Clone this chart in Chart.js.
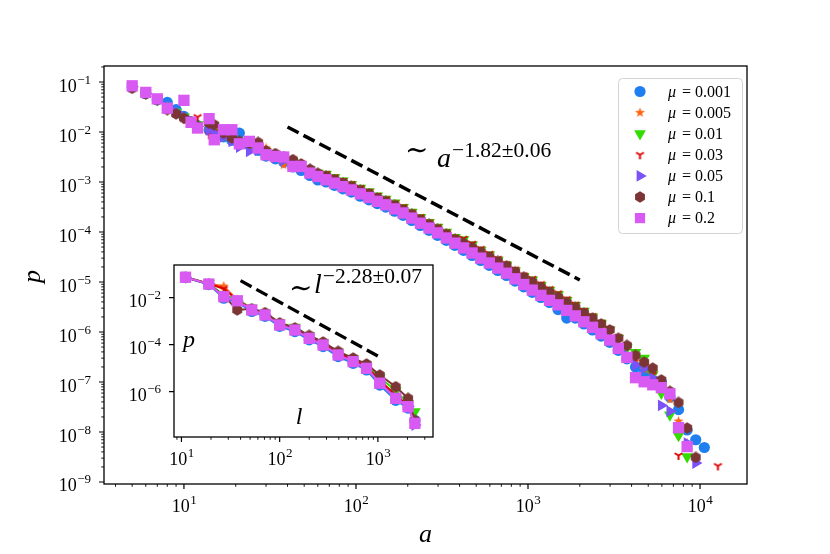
<!DOCTYPE html>
<html>
<head>
<meta charset="utf-8">
<script src="https://cdn.jsdelivr.net/npm/chart.js@4.4.0/dist/chart.umd.min.js"></script>
<style>
  body { margin: 0; background: #fff; }
  #wrap { position: relative; width: 830px; height: 554px; }
  #wrap canvas { position: absolute; left: 0; top: 0; }
</style>
</head>
<body>
<div id="wrap">
  <canvas id="mainChart" width="830" height="554"></canvas>
  <canvas id="insetChart" width="830" height="554"></canvas>
</div>
<script>
// ---- data ----
const muLabels = ['0.001', '0.005', '0.01', '0.03', '0.05', '0.1', '0.2'];

const aBins = [5, 6, 7, 8, 9, 10, 11, 12, 14, 15, 17, 19, 21, 24, 27, 30, 34, 38, 43, 48, 54, 60,
  67, 75, 84, 94, 106, 119, 133, 149, 168, 188, 211, 237, 266, 298, 335, 376, 422, 473, 531, 596, 668, 750, 841, 944,
  1059, 1188, 1334, 1496, 1679, 1884, 2113, 2371, 2661, 2985, 3350, 3758, 4217, 4732, 5309, 5957, 6683, 7499, 8414, 9441, 10593, 12700];

const pMu0001 = [8.0e-2, 5.9e-2, 4.4e-2, 3.9e-2, 2.8e-2, 2.05e-2, 1.6e-2, 1.35e-2, 1.1e-2, 9.0e-3, 8.0e-3, 6.8e-3, 9.5e-3, 5.5e-3, 4.3e-3, 3.3e-3, 2.9e-3, 2.5e-3, 2.0e-3, 1.7e-3, 1.35e-3, 1.1e-3,
  1.0e-3, 8.6e-4, 7.3e-4, 6.3e-4, 5.2e-4, 4.4e-4, 3.7e-4, 3.15e-4, 2.6e-4, 2.15e-4, 1.7e-4, 1.35e-4, 1.08e-4, 8.6e-5, 6.8e-5, 5.4e-5, 4.3e-5, 3.4e-5, 2.7e-5, 2.15e-5, 1.7e-5, 1.35e-5, 1.04e-5, 8.0e-6,
  6.2e-6, 4.9e-6, 3.9e-6, 2.8e-6, 1.9e-6, 1.9e-6, 1.45e-6, 1.1e-6, 8.3e-7, 6.2e-7, 4.3e-7, 2.9e-7, 2.0e-7, 1.5e-7, 1.1e-7, 1.0e-7, 5.0e-8, 2.8e-8, 1.1e-8, 7.0e-9, 4.9e-9, null];
const pMu0005 = [8.1e-2, 6.0e-2, 4.4e-2, 3.2e-2, 2.5e-2, 2.0e-2, 1.6e-2, 1.3e-2, 1.1e-2, 9.5e-3, 8.2e-3, 7.0e-3, 6.0e-3, 5.2e-3, 4.5e-3, 4.8e-3, 3.3e-3, 2.2e-3, 2.3e-3, 2.0e-3, 1.6e-3, 1.35e-3,
  1.22e-3, 1.05e-3, 8.9e-4, 7.6e-4, 6.4e-4, 5.4e-4, 4.5e-4, 3.85e-4, 3.2e-4, 2.6e-4, 2.1e-4, 1.65e-4, 1.32e-4, 1.06e-4, 8.4e-5, 6.6e-5, 5.3e-5, 4.2e-5, 3.3e-5, 2.6e-5, 2.1e-5, 1.65e-5, 1.28e-5, 9.8e-6,
  7.6e-6, 5.9e-6, 4.7e-6, 3.8e-6, 3.0e-6, 2.3e-6, 1.8e-6, 1.35e-6, 1.0e-6, 7.6e-7, 5.2e-7, 3.6e-7, 2.6e-7, 1.8e-7, 1.2e-7, 7.5e-8, 4.5e-8, 1.65e-8, 6.0e-9, null, null, null];
const pMu001 = [8.2e-2, 6.0e-2, 4.5e-2, 3.2e-2, 2.5e-2, 2.0e-2, 1.6e-2, 1.4e-2, 1.4e-2, 1.0e-2, 8.8e-3, 7.5e-3, 6.6e-3, 5.8e-3, 4.8e-3, 4.0e-3, 3.5e-3, 3.0e-3, 2.5e-3, 2.2e-3, 1.75e-3, 1.5e-3,
  1.44e-3, 1.24e-3, 1.05e-3, 9.0e-4, 7.5e-4, 6.4e-4, 5.3e-4, 4.55e-4, 3.8e-4, 3.1e-4, 2.5e-4, 1.95e-4, 1.56e-4, 1.25e-4, 9.9e-5, 7.8e-5, 7.0e-5, 5.5e-5, 4.35e-5, 3.5e-5, 2.75e-5, 2.2e-5, 1.68e-5, 1.3e-5,
  1.1e-5, 8.6e-6, 6.9e-6, 5.6e-6, 4.3e-6, 3.4e-6, 2.6e-6, 2.0e-6, 1.5e-6, 1.1e-6, 7.5e-7, 4.8e-7, 3.9e-7, 3.0e-7, 1.4e-7, 6.0e-8, 2.2e-8, 8.5e-9, 3.2e-9, null, null, null];
const pMu003 = [8.1e-2, 6.0e-2, 4.5e-2, 3.3e-2, 2.4e-2, 1.8e-2, 1.55e-2, 2.0e-2, 8.8e-3, 1.0e-2, 8.5e-3, 7.5e-3, 6.8e-3, 6.0e-3, 5.0e-3, 4.2e-3, 3.6e-3, 3.1e-3, 2.6e-3, 2.25e-3, 1.8e-3, 1.55e-3,
  1.47e-3, 1.25e-3, 1.07e-3, 9.2e-4, 7.7e-4, 6.5e-4, 5.4e-4, 4.6e-4, 3.8e-4, 3.2e-4, 2.5e-4, 2.0e-4, 1.58e-4, 1.27e-4, 1.0e-4, 7.9e-5, 7.4e-5, 5.9e-5, 4.65e-5, 3.7e-5, 2.95e-5, 2.3e-5, 1.8e-5, 1.38e-5,
  1.17e-5, 9.2e-6, 7.3e-6, 6.0e-6, 4.6e-6, 3.6e-6, 2.7e-6, 2.1e-6, 1.56e-6, 1.17e-6, 8.0e-7, 5.3e-7, 2.8e-7, 2.0e-7, 1.4e-7, 9.0e-8, 5.5e-8, 3.4e-9, null, null, null, 2.1e-9];
const pMu005 = [8.0e-2, 5.9e-2, 4.5e-2, 3.1e-2, 2.5e-2, 2.0e-2, 1.6e-2, 1.3e-2, 1.1e-2, 9.5e-3, 8.0e-3, 6.5e-3, 5.0e-3, 4.1e-3, 4.3e-3, 3.6e-3, 3.1e-3, 2.7e-3, 2.2e-3, 1.9e-3, 1.55e-3, 1.3e-3,
  1.15e-3, 9.9e-4, 8.5e-4, 7.3e-4, 6.1e-4, 5.1e-4, 4.3e-4, 3.7e-4, 3.0e-4, 2.5e-4, 2.0e-4, 1.6e-4, 1.26e-4, 1.0e-4, 8.0e-5, 6.3e-5, 5.0e-5, 4.0e-5, 3.2e-5, 2.5e-5, 2.0e-5, 1.6e-5, 1.22e-5, 9.3e-6,
  7.2e-6, 5.7e-6, 4.5e-6, 3.7e-6, 2.8e-6, 2.2e-6, 1.7e-6, 1.3e-6, 9.7e-7, 7.2e-7, 5.0e-7, 3.4e-7, 2.2e-7, 1.9e-7, 1.2e-7, 3.4e-8, 2.6e-8, 1.2e-8, 6.0e-9, 2.4e-9, null, null];
const pMu01 = [7.5e-2, 5.8e-2, 4.4e-2, 2.8e-2, 2.3e-2, 1.9e-2, 1.6e-2, 1.3e-2, 1.5e-2, 1.4e-2, 9.5e-3, 7.6e-3, 6.5e-3, 6.0e-3, 6.2e-3, 4.2e-3, 3.7e-3, 3.2e-3, 2.8e-3, 2.3e-3, 1.8e-3, 1.5e-3,
  1.31e-3, 1.12e-3, 9.6e-4, 8.2e-4, 6.8e-4, 5.8e-4, 4.8e-4, 4.1e-4, 3.4e-4, 2.8e-4, 2.25e-4, 1.77e-4, 1.42e-4, 1.13e-4, 9.0e-5, 7.1e-5, 6.0e-5, 4.9e-5, 4.0e-5, 3.2e-5, 2.6e-5, 2.1e-5, 1.6e-5, 1.25e-5,
  1.0e-5, 7.9e-6, 6.3e-6, 5.0e-6, 3.9e-6, 3.1e-6, 2.4e-6, 1.9e-6, 1.45e-6, 1.1e-6, 7.5e-7, 5.4e-7, 3.4e-7, 2.5e-7, 1.9e-7, 1.1e-7, 6.5e-8, 3.9e-8, 1.2e-8, 3.1e-9, null, null];
const pMu02 = [8.4e-2, 6.2e-2, 4.6e-2, 3.0e-2, null, 4.3e-2, 1.56e-2, 1.2e-2, 1.85e-2, 7.0e-3, 1.11e-2, 1.11e-2, 5.8e-3, 6.5e-3, 4.8e-3, 3.5e-3, 3.25e-3, 3.16e-3, 2.05e-3, 2.05e-3, 1.51e-3, 1.29e-3,
  1.11e-3, 9.5e-4, 8.1e-4, 6.95e-4, 5.8e-4, 4.9e-4, 4.1e-4, 3.5e-4, 2.9e-4, 2.4e-4, 1.9e-4, 1.5e-4, 1.2e-4, 9.6e-5, 7.6e-5, 6.0e-5, 4.8e-5, 3.8e-5, 3.0e-5, 2.4e-5, 1.9e-5, 1.5e-5, 1.16e-5, 8.9e-6,
  6.9e-6, 5.4e-6, 4.3e-6, 3.5e-6, 2.7e-6, 2.1e-6, 1.6e-6, 1.24e-6, 9.2e-7, 6.9e-7, 4.7e-7, 3.1e-7, 1.22e-7, 1.01e-7, 8.8e-8, 7.7e-8, 5.8e-8, 1.22e-8, 5.1e-9, null, null, null];

const lBins = [11, 19, 27, 37, 52, 71, 100, 143, 200, 277, 394, 560, 766, 1045, 1520, 2030, 2380];
const qMu0001 = [7.2e-2, 3.6e-2, 9.5e-3, 6.5e-3, 2.6e-3, 1.6e-3, 6.0e-4, 3.6e-4, 1.6e-4, 8.3e-5, 3.1e-5, 1.6e-5, 8.4e-6, 1.9e-6, 4.3e-7, 2.0e-7, 6.0e-8];
const qMu0005 = [7.4e-2, 3.9e-2, 3.1e-2, 8.0e-3, 3.2e-3, 2.0e-3, 7.6e-4, 4.7e-4, 2.1e-4, 1.1e-4, 4.2e-5, 2.2e-5, 1.15e-5, 2.8e-6, 6.5e-7, 2.5e-7, 5.0e-8];
const qMu001 = [7.6e-2, 4.0e-2, 1.3e-2, 8.5e-3, 3.6e-3, 2.2e-3, 8.5e-4, 5.6e-4, 2.4e-4, 1.25e-4, 4.8e-5, 2.5e-5, 1.35e-5, 4.0e-6, 1.1e-6, 3.2e-7, 1.4e-7];
const qMu003 = [7.5e-2, 3.9e-2, 2.4e-2, 8.0e-3, 3.3e-3, 2.0e-3, 8.0e-4, 5.0e-4, 2.2e-4, 1.15e-4, 4.4e-5, 2.3e-5, 1.2e-5, 3.0e-6, 7.0e-7, 2.6e-7, 5.0e-8];
const qMu005 = [7.4e-2, 3.8e-2, 1.1e-2, 7.2e-3, 3.0e-3, 1.8e-3, 7.0e-4, 4.2e-4, 1.9e-4, 9.8e-5, 3.7e-5, 1.9e-5, 1.0e-5, 2.4e-6, 5.5e-7, 2.4e-7, 3.8e-8];
const qMu01 = [7.4e-2, 3.8e-2, 1.2e-2, 3.0e-3, 3.4e-3, 2.3e-3, 8.5e-4, 5.2e-4, 2.5e-4, 1.3e-4, 5.2e-5, 2.7e-5, 1.5e-5, 5.1e-6, 1.63e-6, 5.2e-7, 6.0e-8];
const qMu02 = [7.4e-2, 3.8e-2, 1.1e-2, 7.4e-3, 3.0e-3, 1.84e-3, 6.9e-4, 4.2e-4, 1.87e-4, 9.7e-5, 3.65e-5, 1.9e-5, 9.9e-6, 2.3e-6, 5.2e-7, 2.3e-7, 4.5e-8];

// dashed guide lines (end points)
const fitA = [40, 2000];
const fitP = [1.26e-2, 1.1e-5];
const fitL = [40, 1000];
const fitQ = [5.3e-2, 3.3e-5];

// axis ticks
const xDecades = [1, 10, 100, 1000, 10000];
const xLabelled = [10, 100, 1000, 10000];
const yDecades = [1e-10, 1e-9, 1e-8, 1e-7, 1e-6, 1e-5, 1e-4, 1e-3, 1e-2, 1e-1];
const yLabelled = [1e-9, 1e-8, 1e-7, 1e-6, 1e-5, 1e-4, 1e-3, 1e-2, 1e-1];
const insetXDecades = [1, 10, 100, 1000];
const insetXLabelled = [10, 100, 1000];
const insetYLabelled = [1e-2, 1e-4, 1e-6];

const pMain = [pMu0001, pMu0005, pMu001, pMu003, pMu005, pMu01, pMu02];
const pInset = [qMu0001, qMu0005, qMu001, qMu003, qMu005, qMu01, qMu02];

// ---- styles ----
const SERIF = '"Liberation Serif", "DejaVu Serif", serif';
const colors = ['#1f7ff0', '#ff6411', '#33dd00', '#dd0000', '#7b52f7', '#7b3535', '#d95af3'];

function markerCanvas(kind, color, size) {
  const c = document.createElement('canvas');
  c.width = c.height = size;
  const g = c.getContext('2d');
  const m = size / 2;
  g.fillStyle = color;
  g.strokeStyle = color;
  g.beginPath();
  if (kind === 'star') {
    const R = m - 0.3, r = R * 0.42;
    for (let i = 0; i < 10; i++) {
      const rr = i % 2 ? r : R, ang = -Math.PI / 2 + i * Math.PI / 5;
      g.lineTo(m + rr * Math.cos(ang), m + rr * Math.sin(ang));
    }
    g.closePath();
    g.fill();
  } else if (kind === 'hex') {
    const R = m - 0.3;
    for (let i = 0; i < 6; i++) {
      const ang = -Math.PI / 2 + i * Math.PI / 3;
      g.lineTo(m + R * Math.cos(ang), m + R * Math.sin(ang));
    }
    g.closePath();
    g.fill();
  } else {
    const R = m - 1;
    g.lineWidth = 2;
    g.moveTo(m, m); g.lineTo(m, m + R);
    g.moveTo(m, m); g.lineTo(m - R * 0.866, m - R * 0.5);
    g.moveTo(m, m); g.lineTo(m + R * 0.866, m - R * 0.5);
    g.stroke();
  }
  return c;
}

const markers = [
  { style: 'circle', radius: 5.6 },
  { style: markerCanvas('star', colors[1], 11), radius: 5 },
  { style: 'triangle', rotation: 180, radius: 6.8 },
  { style: markerCanvas('tri', colors[3], 11), radius: 5 },
  { style: 'triangle', rotation: 90, radius: 6.8 },
  { style: markerCanvas('hex', colors[5], 12), radius: 6 },
  { style: 'rect', radius: 8 }
];

function makeDatasets(xs, table, withLine) {
  return table.map((ys, i) => ({
    label: '\u03bc = ' + muLabels[i],
    data: xs.map((x, j) => ({ x: x, y: ys[j] })).filter(d => d.y !== null),
    pointStyle: markers[i].style,
    pointRadius: markers[i].radius,
    pointRotation: markers[i].rotation || 0,
    backgroundColor: colors[i],
    borderColor: colors[i],
    borderWidth: withLine ? 2 : 0,
    pointBorderWidth: 0,
    showLine: withLine,
    order: 10 - i
  }));
}

function guideDataset(xs, ys, width) {
  return {
    label: 'fit',
    data: xs.map((x, j) => ({ x: x, y: ys[j] })),
    showLine: true,
    borderColor: '#000',
    borderWidth: width,
    borderDash: [12.5, 5.5],
    pointRadius: 0,
    order: 0
  };
}

function minorsOf(decades) {
  const out = [];
  decades.forEach(d => { for (let k = 2; k <= 9; k++) out.push(d * k); });
  return out;
}

function powLabel(ctx, v, x, y, align) {
  const e = Math.round(Math.log10(v));
  const sup = (e < 0 ? '\u2212' : '') + Math.abs(e);
  ctx.font = '18px ' + SERIF;
  const wb = ctx.measureText('10').width;
  ctx.font = '13px ' + SERIF;
  const ws = ctx.measureText(sup).width;
  const x0 = align === 'center' ? x - (wb + ws) / 2 : x - wb - ws;
  ctx.textAlign = 'left';
  ctx.textBaseline = 'alphabetic';
  ctx.font = '18px ' + SERIF;
  ctx.fillText('10', x0, y);
  ctx.font = '13px ' + SERIF;
  ctx.fillText(sup, x0 + wb + 0.5, y - 8);
}

function powerText(ctx, x, y, tildeDy, base, sup) {
  ctx.textAlign = 'left';
  ctx.textBaseline = 'alphabetic';
  ctx.font = '28px ' + SERIF;
  ctx.fillText('\u223c', x, y + tildeDy);
  ctx.font = 'italic 28px ' + SERIF;
  ctx.fillText(base.text, x + base.dx, y);
  const wb = ctx.measureText(base.text).width;
  ctx.font = '21.5px ' + SERIF;
  ctx.fillText(sup, x + base.dx + wb + 1, y - 10);
}

function axesPlugin(cfg) {
  return {
    id: 'axes_' + cfg.name,
    beforeDraw(chart) {
      const { ctx, chartArea: ca } = chart;
      ctx.save();
      ctx.fillStyle = '#fff';
      if (cfg.fillAll) ctx.fillRect(0, 0, chart.width, chart.height);
      ctx.fillRect(ca.left, ca.top, ca.right - ca.left, ca.bottom - ca.top);
      ctx.restore();
    },
    afterDraw(chart) {
      const { ctx, chartArea: ca } = chart;
      const xs = chart.scales.x, ys = chart.scales.y;
      ctx.save();
      ctx.strokeStyle = '#000';
      ctx.fillStyle = '#000';
      ctx.lineWidth = 1.3;
      ctx.strokeRect(ca.left, ca.top, ca.right - ca.left, ca.bottom - ca.top);

      const inX = v => v >= xs.min && v <= xs.max;
      const inY = v => v >= ys.min && v <= ys.max;
      const xTicks = (list, len, w) => {
        ctx.lineWidth = w;
        ctx.beginPath();
        list.filter(inX).forEach(v => {
          const p = xs.getPixelForValue(v);
          ctx.moveTo(p, ca.bottom); ctx.lineTo(p, ca.bottom + len);
        });
        ctx.stroke();
      };
      const yTicks = (list, len, w) => {
        ctx.lineWidth = w;
        ctx.beginPath();
        list.filter(inY).forEach(v => {
          const p = ys.getPixelForValue(v);
          ctx.moveTo(ca.left, p); ctx.lineTo(ca.left - len, p);
        });
        ctx.stroke();
      };
      xTicks(minorsOf(cfg.xDecades), 2.8, 0.9);
      xTicks(cfg.xLabelled, 5, 1.2);
      if (cfg.yDecades) yTicks(minorsOf(cfg.yDecades), 2.8, 0.9);
      yTicks(cfg.yLabelled, 5, 1.2);

      cfg.xLabelled.filter(inX).forEach(v => powLabel(ctx, v, xs.getPixelForValue(v), ca.bottom + 27.5, 'center'));
      cfg.yLabelled.filter(inY).forEach(v => powLabel(ctx, v, ca.left - 13.5, ys.getPixelForValue(v) + 9.5, 'right'));

      if (cfg.extra) cfg.extra(ctx, ca);
      ctx.restore();
    }
  };
}

function drawMarker(ctx, i, x, y) {
  ctx.fillStyle = colors[i];
  ctx.strokeStyle = colors[i];
  Chart.helpers.drawPoint(ctx, {
    pointStyle: markers[i].style,
    rotation: markers[i].rotation || 0,
    radius: i === 6 ? 7.2 : markers[i].radius,
    borderWidth: 0
  }, x, y);
}

function mainExtras(ctx, ca) {
  // axis labels
  ctx.fillStyle = '#000';
  ctx.font = 'italic 26px ' + SERIF;
  ctx.textAlign = 'center';
  ctx.textBaseline = 'alphabetic';
  ctx.fillText('a', 425.5, 542);
  ctx.save();
  ctx.translate(40, 276.5);
  ctx.rotate(-Math.PI / 2);
  ctx.fillText('p', 0, 0);
  ctx.restore();

  // power law note
  powerText(ctx, 405, 167, -8, { text: 'a', dx: 32 }, '\u22121.82\u00b10.06');

  // legend
  ctx.save();
  ctx.fillStyle = 'rgba(255,255,255,0.8)';
  ctx.strokeStyle = '#d4d4d4';
  ctx.lineWidth = 1;
  ctx.beginPath();
  ctx.roundRect(618.5, 78.5, 124, 155, 4);
  ctx.fill();
  ctx.stroke();
  ctx.restore();
  muLabels.forEach((mu, i) => {
    const cy = 91.5 + i * 21.1;
    drawMarker(ctx, i, 640, cy);
    ctx.fillStyle = '#000';
    ctx.textAlign = 'left';
    ctx.textBaseline = 'alphabetic';
    ctx.font = 'italic 16px ' + SERIF;
    ctx.fillText('\u03bc', 668, cy + 5);
    ctx.font = '16px ' + SERIF;
    ctx.fillText('= ' + mu, 682, cy + 5);
  });
}

function insetExtras(ctx, ca) {
  ctx.fillStyle = '#000';
  ctx.font = 'italic 24px ' + SERIF;
  ctx.textAlign = 'center';
  ctx.textBaseline = 'alphabetic';
  ctx.fillText('p', 189, 347);
  ctx.fillText('l', 299, 424);
  powerText(ctx, 289, 293, 4, { text: 'l', dx: 25 }, '\u22122.28\u00b10.07');
}

new Chart(document.getElementById('mainChart'), {
  type: 'scatter',
  data: { datasets: [guideDataset(fitA, fitP, 3.5)].concat(makeDatasets(aBins, pMain, false)) },
  options: {
    responsive: false,
    animation: false,
    events: [],
    layout: { padding: { left: 104, right: 83, top: 66, bottom: 70 } },
    plugins: { legend: { display: false }, tooltip: { enabled: false } },
    scales: {
      x: { type: 'logarithmic', min: 3.43, max: 18750, display: false },
      y: { type: 'logarithmic', min: 9.12e-10, max: 0.209, display: false }
    }
  },
  plugins: [axesPlugin({ name: 'main', fillAll: true, xDecades: xDecades, xLabelled: xLabelled,
    yDecades: yDecades, yLabelled: yLabelled, extra: mainExtras })]
});

new Chart(document.getElementById('insetChart'), {
  type: 'scatter',
  data: { datasets: [guideDataset(fitL, fitQ, 3.3)].concat(makeDatasets(lBins, pInset, true)) },
  options: {
    responsive: false,
    animation: false,
    events: [],
    layout: { padding: { left: 174, right: 397, top: 265, bottom: 117 } },
    plugins: { legend: { display: false }, tooltip: { enabled: false } },
    scales: {
      x: { type: 'logarithmic', min: 8.4, max: 3640, display: false },
      y: { type: 'logarithmic', min: 1.18e-8, max: 0.246, display: false }
    }
  },
  plugins: [axesPlugin({ name: 'inset', fillAll: false, xDecades: insetXDecades, xLabelled: insetXLabelled,
    yDecades: null, yLabelled: insetYLabelled, extra: insetExtras })]
});
</script>
</body>
</html>
